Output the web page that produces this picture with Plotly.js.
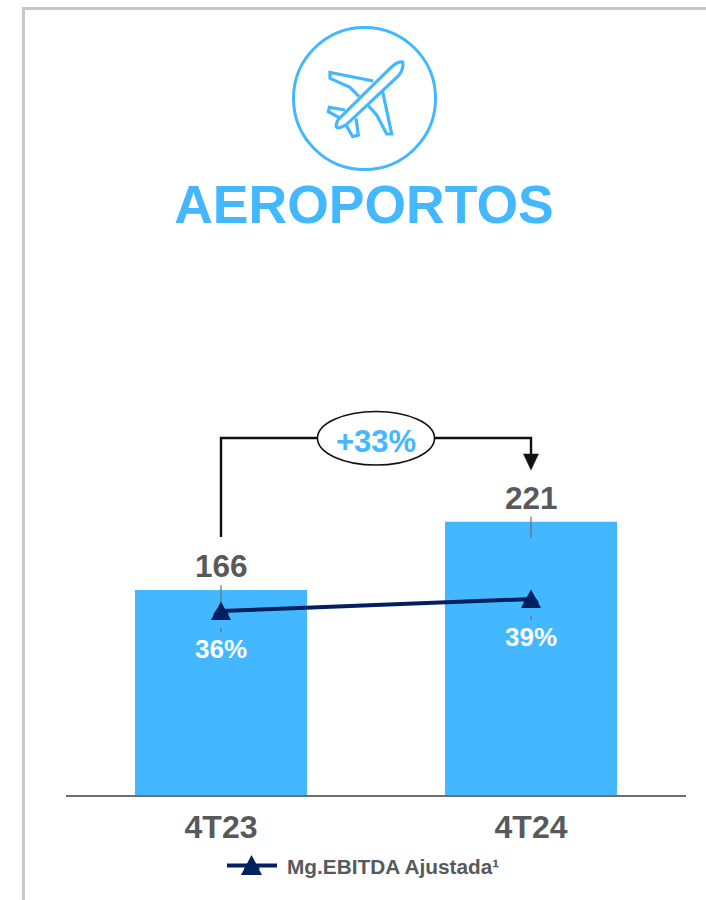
<!DOCTYPE html>
<html>
<head>
<meta charset="utf-8">
<script src="https://cdn.plot.ly/plotly-3.0.1.min.js"></script>
<style>html,body{margin:0;padding:0;background:#fff}#chart{width:706px;height:900px}</style>
</head>
<body>
<div id="chart"></div>
<script>
const categories = ['4T23', '4T24'];
const ebitda = [166, 221];
const margin = [36, 39];
const growthLabel = '+33%';
const sectionTitle = 'AEROPORTOS';
const legendName = 'Mg.EBITDA Ajustada¹';

const W = 706, H = 900;
const BLUE = '#43b7ff', NAVY = '#002060', GRAY = '#58595b', FONT = '"Liberation Sans", Arial, sans-serif';
const AXIS_Y = 796;
const px = x => x / W, py = y => 1 - y / H;
const pth = (pts, close) => pts.map((p, i) => (i ? 'L' : 'M') + px(p[0]).toFixed(5) + ',' + py(p[1]).toFixed(5)).join(' ') + (close ? ' Z' : '');
const z = pts => pts.map(p => [270 + p[0] / 3, 10 + p[1] / 3]);
const zp = (x, y) => px(270 + x / 3).toFixed(5) + ',' + py(10 + y / 3).toFixed(5);
const paperShape = o => Object.assign({xref: 'paper', yref: 'paper'}, o);
const iconLine = {color: BLUE, width: 3.2};
const fuselage = 'M' + zp(205,328) + ' L' + zp(360,175) + ' Q' + zp(383,152) + ' ' + zp(398,156) +
  ' Q' + zp(403,175) + ' ' + zp(385,198) + ' L' + zp(230,343) + ' Q' + zp(205,358) + ' ' + zp(199,351) + ' Q' + zp(197,342) + ' ' + zp(205,328) + ' Z';
const planeParts = [
  [[310,213],[180,187],[180,205],[240,232],[267,260]],
  [[338,245],[365,372],[350,372],[320,315],[293,285]],
  [[225,300],[178,292],[175,305],[212,325]],
  [[258,325],[265,375],[248,380],[228,345]]
];

const shapes = [
  paperShape({type: 'path', path: pth([[23.5,900],[23.5,8.5],[706,8.5]]), line: {color: '#c8c8c8', width: 3}}),
  paperShape({type: 'circle', x0: px(293.5), x1: px(435.5), y0: py(169.5), y1: py(27.5), line: {color: BLUE, width: 3}}),
  paperShape({type: 'path', path: pth([[221,537],[221,438],[318,438]]), line: {color: '#111', width: 2.4}}),
  paperShape({type: 'path', path: pth([[435,438],[531,438],[531,456]]), line: {color: '#111', width: 2.4}}),
  paperShape({type: 'path', path: pth([[523.5,454],[538.5,454],[531,470]], true), fillcolor: '#111', line: {color: '#111', width: 0.5}}),
  paperShape({type: 'circle', x0: px(317.5), x1: px(434.5), y0: py(465), y1: py(411.5), fillcolor: '#fff', line: {color: '#111', width: 1.6}}),
  paperShape({type: 'path', path: fuselage, line: iconLine}),
  paperShape({type: 'line', x0: px(66), x1: px(686), y0: py(AXIS_Y), y1: py(AXIS_Y), line: {color: '#6d6e71', width: 2}})
];
planeParts.forEach(p => shapes.push(paperShape({type: 'path', path: pth(z(p)), line: iconLine})));

categories.forEach((c, i) => {
  shapes.push({type: 'line', xref: 'x', yref: 'y', x0: i, x1: i, ysizemode: 'pixel', yanchor: ebitda[i], y0: 5, y1: -16, line: {color: '#6d6e71', width: 1.2}});
  shapes.push({type: 'line', xref: 'x', yref: 'y2', x0: i, x1: i, ysizemode: 'pixel', yanchor: margin[i], y0: -17, y1: -21, line: {color: '#6d6e71', width: 1.2}});
  shapes.push({type: 'path', xref: 'x', yref: 'y2', xsizemode: 'pixel', ysizemode: 'pixel', xanchor: i, yanchor: margin[i], path: 'M-10,-9 L10,-9 L0,9.5 Z', fillcolor: NAVY, line: {width: 0}});
});
shapes.push(paperShape({type: 'path', path: pth([[241,875],[262,875],[251.5,855]], true), fillcolor: NAVY, line: {width: 0}}));

const annotations = [];
categories.forEach((c, i) => {
  annotations.push({xref: 'x', yref: 'y', x: i, y: ebitda[i], yshift: 24, yanchor: 'middle', showarrow: false, text: String(ebitda[i]), font: {family: FONT, size: 31.5, color: GRAY, weight: 700}});
  annotations.push({xref: 'x', yref: 'y2', x: i, y: margin[i], yshift: -38, yanchor: 'middle', showarrow: false, text: margin[i] + '%', font: {family: FONT, size: 26, color: '#fff', weight: 700}});
});
annotations.push({xref: 'paper', yref: 'paper', x: px(376), y: py(441), xanchor: 'center', yanchor: 'middle', showarrow: false, text: growthLabel, font: {family: FONT, size: 31, color: BLUE, weight: 700}});

const traces = [
  {type: 'bar', x: categories, y: ebitda, width: 0.555, marker: {color: BLUE}, showlegend: false, hoverinfo: 'x+y'},
  {type: 'scatter', mode: 'lines+markers', x: categories, y: margin, yaxis: 'y2', name: legendName,
   line: {color: NAVY, width: 4}, marker: {symbol: 'triangle-up', size: 14, color: NAVY}}
];

const layout = {
  width: W, height: H,
  margin: {l: 0, r: 0, t: 0, b: 0},
  paper_bgcolor: '#fff', plot_bgcolor: 'rgba(0,0,0,0)',
  font: {family: FONT, color: GRAY},
  title: {text: sectionTitle, x: px(364), xanchor: 'center', y: py(204), yanchor: 'middle', font: {family: FONT, size: 53.5, color: BLUE, weight: 700}},
  xaxis: {domain: [px(66), px(686)], type: 'category', range: [-0.5, 1.5], fixedrange: true, showgrid: false, zeroline: false,
          showline: false, ticks: '', ticklabelstandoff: 9,
          tickfont: {family: FONT, size: 32, color: GRAY, weight: 700}},
  yaxis: {domain: [py(AXIS_Y), 1], range: [0, AXIS_Y / 1.241], visible: false, fixedrange: true},
  yaxis2: {domain: [py(AXIS_Y), 1], range: [-10.25, 188.75], overlaying: 'y', visible: false, fixedrange: true},
  showlegend: true,
  legend: {x: px(222), xanchor: 'left', y: py(866), yanchor: 'middle', orientation: 'h', itemwidth: 50,
           bgcolor: 'rgba(0,0,0,0)', font: {family: FONT, size: 20.8, color: GRAY, weight: 700}},
  shapes, annotations
};
Plotly.newPlot('chart', traces, layout, {displayModeBar: false, responsive: false}).then(() => {
  const t = document.querySelector('.legendtext');
  if (t) t.setAttribute('x', Number(t.getAttribute('x')) + 5);
});
</script>
</body>
</html>
